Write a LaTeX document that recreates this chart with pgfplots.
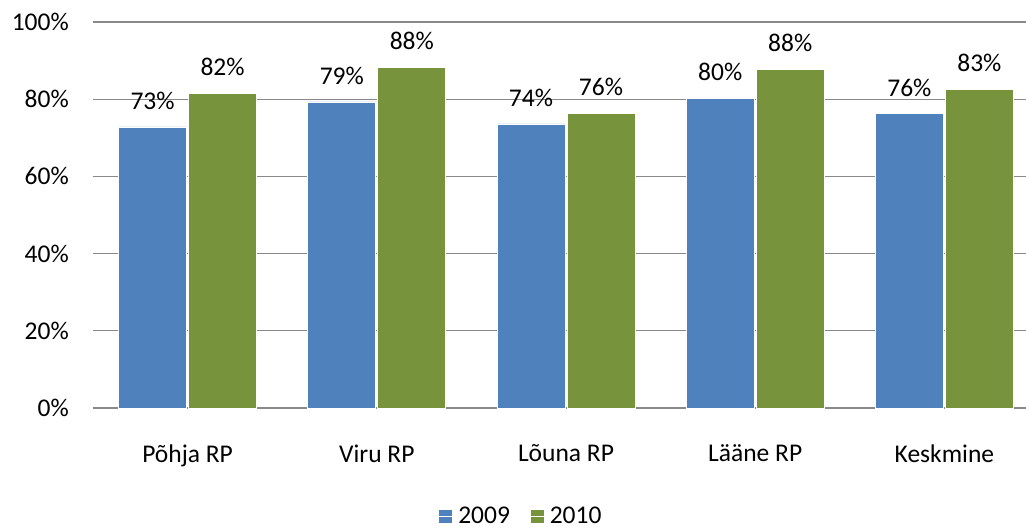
\documentclass[border=0pt]{standalone}
\usepackage{pgfplots}
\pgfplotsset{compat=1.18}
\usepackage{fontspec}
\setmainfont{Carlito}
\definecolor{b09}{HTML}{4F81BD}
\definecolor{g10}{HTML}{77933C}
\definecolor{gridc}{HTML}{898989}
\newcommand{\fs}{\fontsize{25.5}{30}\selectfont}
\begin{document}
\begin{tikzpicture}
\path[use as bounding box] (-93pt,-120pt) rectangle (933pt,408pt);
\begin{axis}[
  at={(0pt,0pt)}, anchor=south west,
  scale only axis, width=946pt, height=386pt,
  ybar=2pt, bar width=68pt,
  xmin=-0.5, xmax=4.5, ymin=0, ymax=100,
  xtick={0,1,2,3,4},
  xticklabels={Põhja RP, Viru RP, Lõuna RP, Lääne RP, Keskmine},
  ytick={0,20,40,60,80,100},
  yticklabel={\pgfmathprintnumber{\tick}\%},
  /pgf/number format/assume math mode=true,
  axis x line*=bottom, axis y line*=left,
  y axis line style={draw=none},
  x axis line style={draw=gridc, line width=1.4pt},
  xtick style={draw=none}, ytick style={draw=none},
  ymajorgrids, grid style={draw=gridc, line width=1.2pt},
  tick label style={font=\fs, text=black},
  yticklabel style={anchor=east, inner sep=0pt, xshift=-24pt},
  xticklabel style={anchor=north, inner sep=0pt, yshift=-32pt},
  nodes near coords={\pgfmathprintnumber[fixed,precision=0]{\pgfplotspointmeta}\%},
  nodes near coords style={font=\fs, text=black, anchor=south, inner sep=0pt, yshift=17pt},
  legend style={draw=none, fill=none, font=\fs, at={(rel axis cs:0.4524,-0.28)}, anchor=center,
    legend columns=2, /tikz/every even column/.append style={column sep=18pt}},
  legend image code/.code={\fill[#1] (0pt,-7pt) rectangle (14pt,7pt); \path (0pt,0pt) -- (17pt,0pt);},
  clip=false,
]
\addplot[fill=b09, draw=white, line width=0.8pt] coordinates {(0,72.8) (1,79.3) (2,73.6) (3,80.3) (4,76.2)};
\addplot[fill=g10, draw=white, line width=0.8pt] coordinates {(0,81.6) (1,88.3) (2,76.4) (3,87.8) (4,82.6)};
\legend{2009,2010}
\end{axis}
\end{tikzpicture}
\end{document}
